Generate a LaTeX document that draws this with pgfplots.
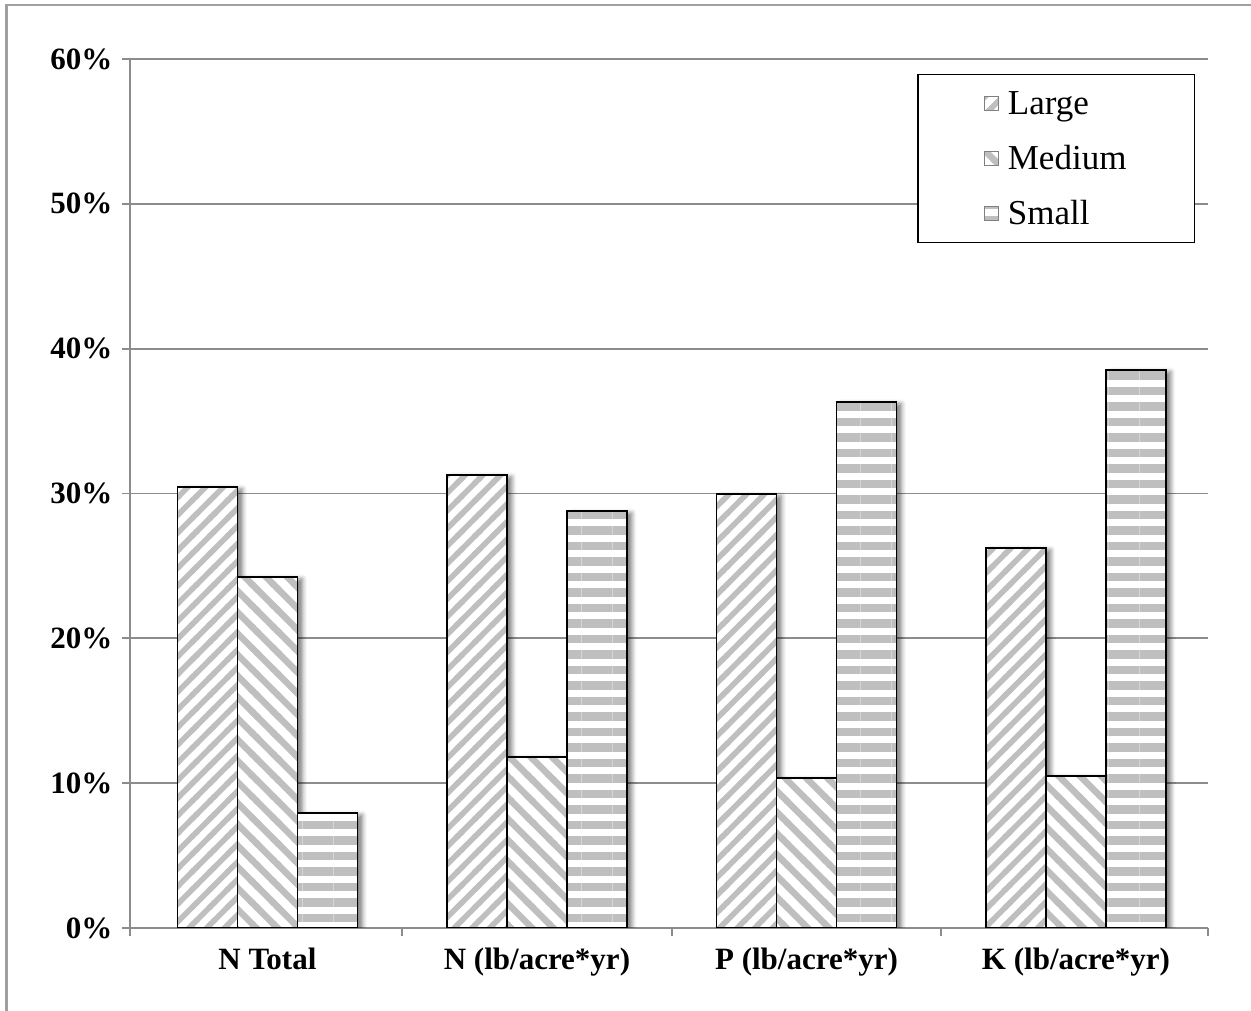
\documentclass[border=0pt]{standalone}
\usepackage{fontspec}
\setmainfont{Liberation Serif}
\usepackage{pgfplots}
\pgfplotsset{compat=1.18}
\usetikzlibrary{patterns, patterns.meta, shadows.blur}

\definecolor{gridgray}{HTML}{8C8C8C}
\definecolor{hatch}{HTML}{BFBFBF}
\definecolor{framegray}{HTML}{A0A0A0}

% seamless diagonal hatches: "/" with 12.5bp spacing, "\" with 15bp spacing
\pgfdeclarepatternformonly{hatchNE}{\pgfpoint{-1bp}{-1bp}}{\pgfpoint{18.68bp}{18.68bp}}{\pgfpoint{17.68bp}{17.68bp}}{
  \pgfsetlinewidth{5.5bp}
  \pgfpathmoveto{\pgfpoint{-5bp}{-5bp}}\pgfpathlineto{\pgfpoint{22.68bp}{22.68bp}}
  \pgfpathmoveto{\pgfpoint{-5bp}{12.68bp}}\pgfpathlineto{\pgfpoint{5bp}{22.68bp}}
  \pgfpathmoveto{\pgfpoint{12.68bp}{-5bp}}\pgfpathlineto{\pgfpoint{22.68bp}{5bp}}
  \pgfusepath{stroke}
}
\pgfdeclarepatternformonly{hatchNW}{\pgfpoint{-1bp}{-1bp}}{\pgfpoint{22.21bp}{22.21bp}}{\pgfpoint{21.21bp}{21.21bp}}{
  \pgfsetlinewidth{6.5bp}
  \pgfpathmoveto{\pgfpoint{-5bp}{26.21bp}}\pgfpathlineto{\pgfpoint{26.21bp}{-5bp}}
  \pgfpathmoveto{\pgfpoint{-5bp}{5bp}}\pgfpathlineto{\pgfpoint{5bp}{-5bp}}
  \pgfpathmoveto{\pgfpoint{16.21bp}{26.21bp}}\pgfpathlineto{\pgfpoint{26.21bp}{16.21bp}}
  \pgfusepath{stroke}
}

% hatch styles for the three farm sizes
\tikzset{
  barbase/.style={draw=black, line width=1.2bp,
    blur shadow={shadow xshift=5bp, shadow yshift=-2bp, shadow blur radius=4.5bp, shadow opacity=50},
    preaction={fill=white}},
  largehatch/.style={pattern=hatchNE, pattern color=hatch},
  mediumhatch/.style={pattern=hatchNW, pattern color=hatch},
  smallhatch/.style={pattern={Lines[angle=0, distance=15.5bp, line width=8.5bp]}, pattern color=hatch},
}

\begin{document}
\begin{tikzpicture}[x=1bp, y=1bp]
\path[use as bounding box] (0,0) rectangle (1251,1011);
\draw[framegray, line width=2.5bp] (6.5,0) -- (6.5,1006) -- (1251,1006);
\begin{axis}[
  at={(130bp,83bp)}, anchor=south west,
  scale only axis, width=1078bp, height=869bp,
  xmin=-0.51, xmax=3.49, ymin=0, ymax=60,
  axis x line*=bottom, axis y line*=left,
  axis line style={gridgray, line width=1.8bp, -},
  tick style={gridgray, line width=1.8bp},
  tick align=outside, major tick length=8bp,
  ytick={0,10,...,60},
  yticklabels={0\%,10\%,20\%,30\%,40\%,50\%,60\%},
  ymajorgrids, grid style={gridgray, line width=1.8bp},
  xtick={-0.51,0.5,1.5,2.5,3.49},
  xticklabels={\empty,\empty,\empty,\empty,\empty},
  extra x ticks={0,1,2,3},
  extra x tick labels={N Total, N (lb/acre*yr), P (lb/acre*yr), K (lb/acre*yr)},
  extra x tick style={major tick length=0pt,
    tick label style={anchor=base, yshift=-42bp}},
  tick label style={font=\fontsize{31bp}{36bp}\selectfont\bfseries},
  yticklabel style={anchor=east, xshift=-6bp},
  ybar=0pt, bar width=0.2226,
  legend image code/.code={\draw[#1] (0bp,-7bp) rectangle (14bp,7bp);},
  legend cell align=left,
  legend style={at={(0.988,0.983)}, anchor=north east,
    draw=black, line width=1.2bp,
    font=\fontsize{35bp}{40bp}\selectfont,
    inner xsep=66bp, inner ysep=11.5bp,
    row sep=20bp, column sep=7bp,
    nodes={inner sep=2bp, text height=27bp, text depth=4bp}},
]
\addplot[barbase, largehatch, bar shift=-0.2226, forget plot]
  coordinates {(0,30.45) (1,31.28) (2,29.97) (3,26.24)};
\addplot[barbase, mediumhatch, bar shift=0, forget plot]
  coordinates {(0,24.24) (1,11.81) (2,10.36) (3,10.50)};
\addplot[barbase, smallhatch, bar shift=0.2226, forget plot]
  coordinates {(0,7.94) (1,28.79) (2,36.32) (3,38.53)};

\addlegendimage{draw=gray, line width=0.8bp, preaction={fill=white}, largehatch}
\addlegendentry{Large}
\addlegendimage{draw=gray, line width=0.8bp, preaction={fill=white}, mediumhatch}
\addlegendentry{Medium}
\addlegendimage{draw=gray, line width=0.8bp, preaction={fill=white}, smallhatch}
\addlegendentry{Small}
\end{axis}
\end{tikzpicture}
\end{document}
